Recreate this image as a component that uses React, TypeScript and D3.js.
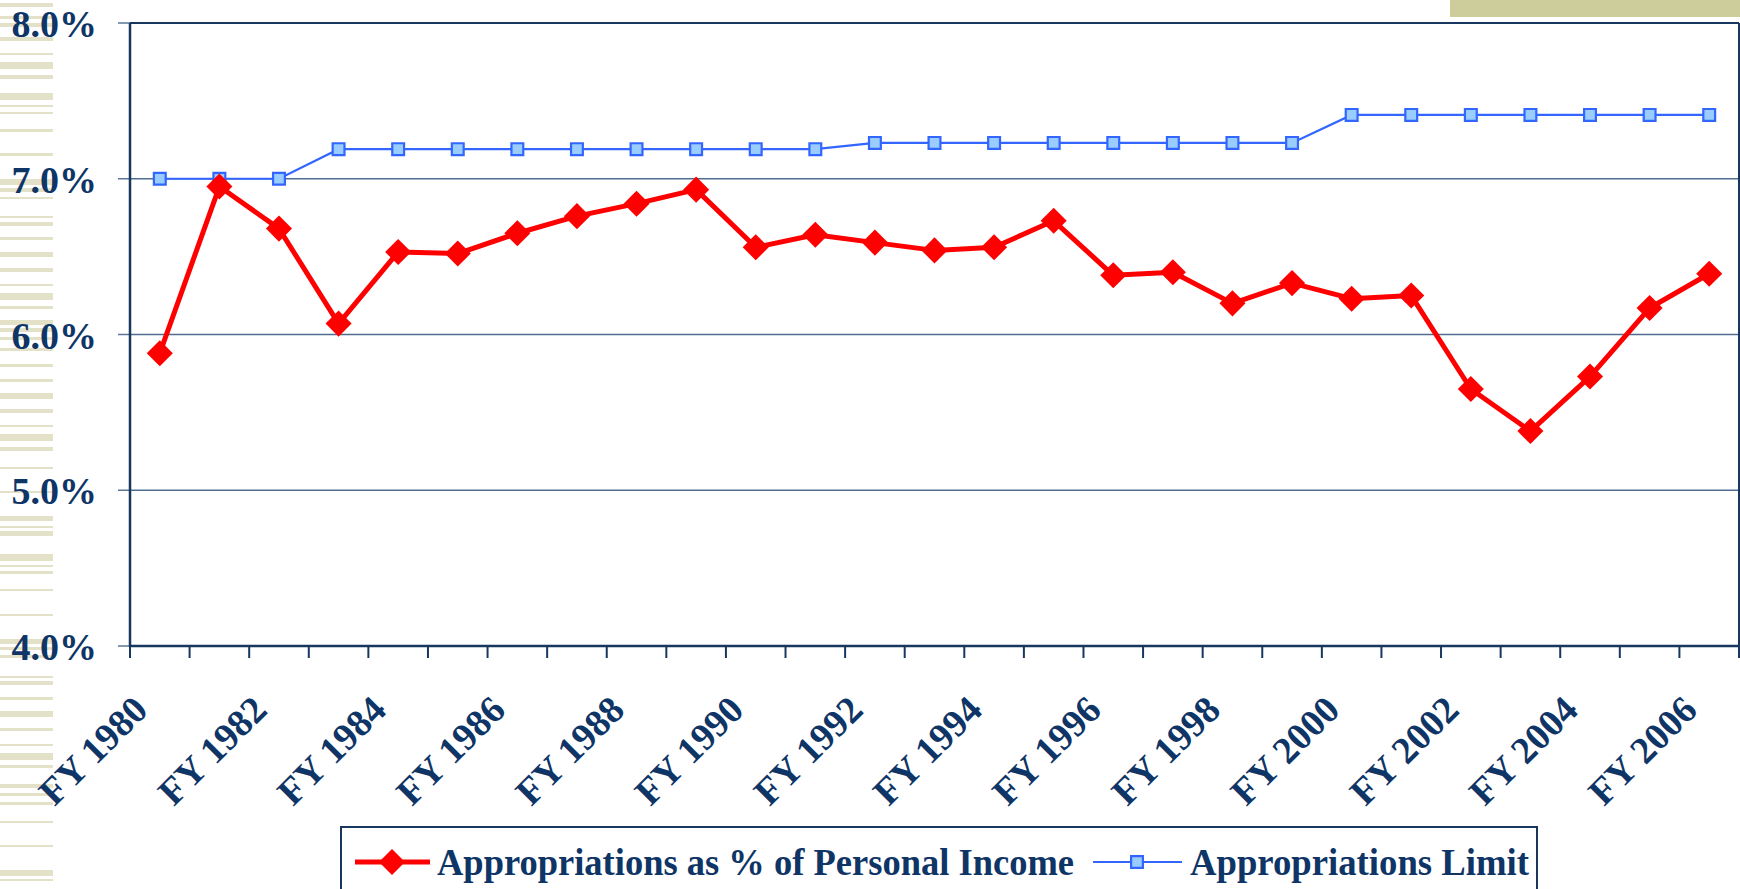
import React from "react";
import * as d3 from "d3";

// fiscal years on the category axis
const years = d3.range(1980, 2007).map((y) => `FY ${y}`);

// appropriations as % of personal income
const approPct = [
  5.88, 6.95, 6.68, 6.07, 6.53, 6.52, 6.65, 6.76, 6.84, 6.93, 6.56, 6.64, 6.59, 6.54,
  6.56, 6.73, 6.38, 6.4, 6.2, 6.33, 6.23, 6.25, 5.65, 5.38, 5.73, 6.17, 6.39,
];

// appropriations limit
const approLimit = [
  7.0, 7.0, 7.0, 7.19, 7.19, 7.19, 7.19, 7.19, 7.19, 7.19, 7.19, 7.19, 7.23, 7.23,
  7.23, 7.23, 7.23, 7.23, 7.23, 7.23, 7.41, 7.41, 7.41, 7.41, 7.41, 7.41, 7.41,
];

const yTicks = [4, 5, 6, 7, 8];
const seriesNames = ["Appropriations as % of Personal Income", "Appropriations Limit"];

// decorative stripes on the left edge of the slide: [top, height]
const stripes: [number, number][] = [
  [3, 4], [16, 3], [23, 4], [37, 4], [53, 2], [62, 7], [75, 4], [93, 7], [105, 2],
  [112, 2], [129, 3], [153, 3], [179, 6], [188, 4], [197, 2], [216, 2], [222, 4],
  [237, 3], [252, 5], [268, 4], [284, 2], [293, 7], [306, 3], [320, 5], [328, 4],
  [337, 3], [348, 3], [364, 3], [379, 3], [393, 6], [409, 4], [425, 2], [434, 7],
  [447, 4], [467, 2], [491, 2], [516, 5], [526, 2], [531, 5], [554, 7], [565, 2],
  [571, 3], [589, 2], [614, 2], [639, 5], [647, 3], [655, 3], [676, 2], [681, 4],
  [697, 3], [711, 6], [728, 3], [744, 2], [753, 7], [765, 3], [784, 4], [793, 3],
  [802, 3], [821, 2], [845, 2], [870, 6], [879, 2],
];

const W = 1740;
const H = 889;
const navy = "#0e3566";
const font = "'Liberation Serif', 'Times New Roman', serif";

export default function App() {
  const left = 130;
  const right = 1739;
  const top = 23;
  const bottom = 646;

  const x = d3.scaleBand<string>().domain(years).range([left, right]).padding(0);
  const y = d3.scaleLinear().domain([4, 8]).range([bottom, top]);
  const cx = (i: number) => (x(years[i]) as number) + x.bandwidth() / 2;

  const line = d3
    .line<number>()
    .x((_, i) => cx(i))
    .y((d) => y(d));

  const diamond = d3.symbol(d3.symbolSquare, 340)() as string;
  const square = d3.symbol(d3.symbolSquare, 140)() as string;

  const boundaries = years.map((yr) => x(yr) as number).concat([right]);

  return (
    <svg
      width={W}
      height={H}
      style={{ position: "absolute", left: 0, top: 0, background: "#fff" }}
      fontFamily={font}
    >
      {stripes.map(([sy, sh], i) => (
        <rect key={i} x={0} y={sy} width={53} height={sh} fill="#e4e1c9" />
      ))}
      <rect x={1450} y={0} width={290} height={17} fill="#cdcc9b" />

      {/* gridlines */}
      {yTicks.slice(1, -1).map((t) => (
        <line key={t} x1={left} x2={right} y1={y(t)} y2={y(t)} stroke="#4f6d90" strokeWidth={1.5} />
      ))}
      {/* y ticks */}
      {yTicks.map((t) => (
        <line key={t} x1={left - 12} x2={left} y1={y(t)} y2={y(t)} stroke="#5a7797" strokeWidth={1.5} />
      ))}
      {/* plot frame */}
      <line x1={left} x2={right} y1={top} y2={top} stroke="#17375e" strokeWidth={2} />
      <line x1={right} x2={right} y1={top} y2={bottom} stroke="#17375e" strokeWidth={2} />
      <line x1={left} x2={left} y1={top} y2={bottom + 1} stroke="#17375e" strokeWidth={2.5} />
      <line x1={left} x2={right} y1={bottom} y2={bottom} stroke="#17375e" strokeWidth={2.5} />
      {boundaries.map((bx, i) => (
        <line key={i} x1={bx} x2={bx} y1={bottom} y2={bottom + 12} stroke="#17375e" strokeWidth={2} />
      ))}

      {/* y labels */}
      {yTicks.map((t) => (
        <text
          key={t}
          x={97}
          y={y(t) + 14}
          textAnchor="end"
          fontSize={38}
          fontWeight="bold"
          fill={navy}
        >
          {d3.format(".1f")(t)}%
        </text>
      ))}

      {/* x labels, every other year */}
      {years.map((yr, i) =>
        i % 2 === 0 ? (
          <text
            key={yr}
            transform={`translate(${cx(i) - 10},${bottom + 66}) rotate(-45)`}
            textAnchor="end"
            fontSize={38}
            fontWeight="bold"
            fill={navy}
          >
            {yr}
          </text>
        ) : null
      )}

      {/* limit series */}
      <path d={line(approLimit) as string} fill="none" stroke="#3366ff" strokeWidth={2.2} />
      {approLimit.map((v, i) => (
        <path
          key={i}
          d={square}
          transform={`translate(${cx(i)},${y(v)})`}
          fill="#99ccff"
          stroke="#3366ff"
          strokeWidth={2.2}
        />
      ))}

      {/* percent series */}
      <path d={line(approPct) as string} fill="none" stroke="#ff0000" strokeWidth={5} strokeLinejoin="round" />
      {approPct.map((v, i) => (
        <path key={i} d={diamond} transform={`translate(${cx(i)},${y(v)}) rotate(45)`} fill="#ff0000" />
      ))}

      {/* legend */}
      <rect x={341} y={827} width={1196} height={100} fill="#fff" stroke="#17375e" strokeWidth={2} />
      <line x1={355} x2={430} y1={862} y2={862} stroke="#ff0000" strokeWidth={5} />
      <path d={diamond} transform="translate(392,862) rotate(45)" fill="#ff0000" />
      <text
        x={437}
        y={875}
        fontSize={38}
        fontWeight="bold"
        fill={navy}
        textLength={637}
        lengthAdjust="spacingAndGlyphs"
      >
        {seriesNames[0]}
      </text>
      <line x1={1093} x2={1182} y1={862} y2={862} stroke="#3366ff" strokeWidth={2.2} />
      <path d={square} transform="translate(1137,862)" fill="#99ccff" stroke="#3366ff" strokeWidth={2.2} />
      <text
        x={1190}
        y={875}
        fontSize={38}
        fontWeight="bold"
        fill={navy}
        textLength={339}
        lengthAdjust="spacingAndGlyphs"
      >
        {seriesNames[1]}
      </text>
    </svg>
  );
}
